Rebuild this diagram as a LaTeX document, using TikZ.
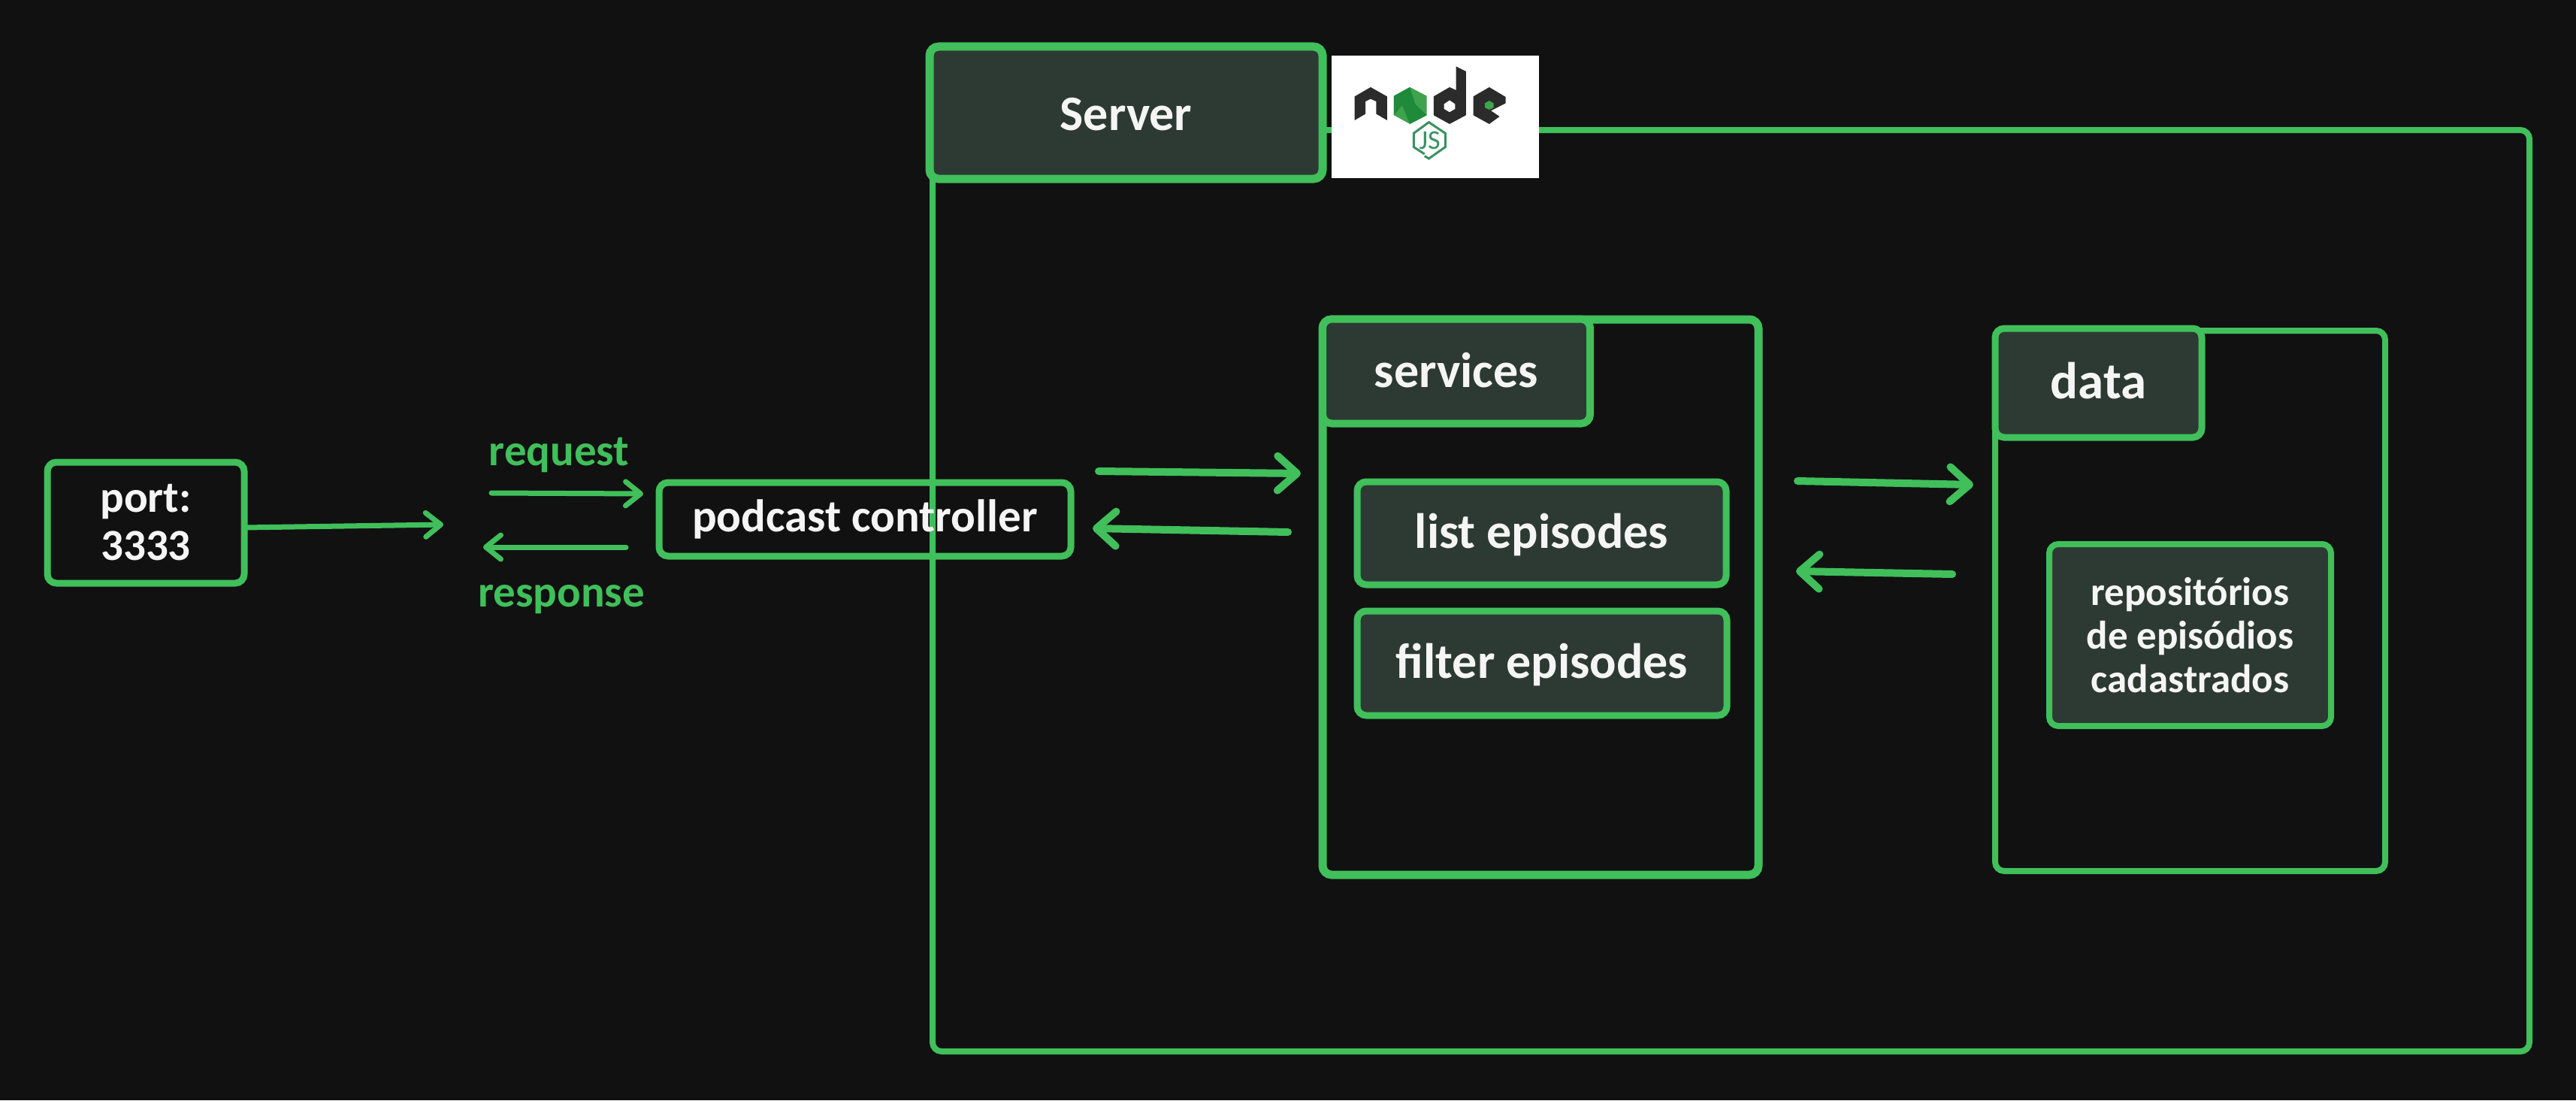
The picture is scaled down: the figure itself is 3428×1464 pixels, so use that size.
\documentclass[tikz,border=0pt]{standalone}
\usepackage{fontspec}
\setmainfont{Carlito}
\usetikzlibrary{arrows.meta}
\definecolor{bg}{HTML}{111112}
\definecolor{grn}{HTML}{40BF5A}
\definecolor{tabfill}{HTML}{2D3A33}
\definecolor{txt}{HTML}{F5F5F5}
\definecolor{logodark}{HTML}{2B2B2B}
\definecolor{logogreen}{HTML}{3FA34D}
\definecolor{logodeep}{HTML}{1E8A3A}
\definecolor{logojs}{HTML}{3A9160}
\newcommand{\lowertext}[2]{\raisebox{-#1}[20pt][20pt]{#2}}
\tikzset{
  x=1pt,y=-1pt,
  frame/.style={draw=grn,rounded corners=12pt,inner sep=0pt,outer sep=0pt},
  thick7/.style={line width=8pt},
  thick9/.style={line width=11pt},
  tabtext/.style={font=\fontsize{66}{60}\selectfont\bfseries},
  tab/.style={frame,fill=tabfill,text=txt,tabtext,align=center},
  plainbox/.style={frame,line width=9pt,text=txt,font=\fontsize{60}{60}\selectfont\bfseries,align=center},
  conbig/.style={draw=grn,line cap=round,line join=round,line width=10pt,-{Straight Barb[length=26pt,width=46pt,line width=10pt,round]}},
  connthin/.style={draw=grn,line cap=round,line join=round,line width=7pt,-{Straight Barb[length=20pt,width=32pt,line width=7pt,round]}},
  lbl/.style={text=grn,font=\fontsize{59}{60}\selectfont\bfseries,inner sep=0pt},
  logoshape/.style={fill=logodark,draw=none},
}
\begin{document}
\begin{tikzpicture}
\useasboundingbox (0,0) rectangle (3428,1464);
\fill[bg] (0,0) rectangle (3428,1464);
% large containers
\node[frame,thick7,minimum width=2125pt,minimum height=1226pt] (serverframe) at (2303.5,786) {};
\node[frame,thick9,minimum width=580pt,minimum height=739pt] (servicesframe) at (2050,794.5) {};
\node[frame,thick7,minimum width=519pt,minimum height=719pt] (dataframe) at (2914.5,799.5) {};
% tabs
\node[tab,line width=11pt,minimum width=523pt,minimum height=176pt] (server) at (1498.5,150) {\lowertext{23pt}{Server}};
\node[tab,line width=10pt,minimum width=356pt,minimum height=139pt] (services) at (1938,494) {\lowertext{21pt}{services}};
\node[tab,line width=9pt,minimum width=275pt,minimum height=145pt,font=\fontsize{69}{60}\selectfont\bfseries] (data) at (2792.5,509.5) {\lowertext{21pt}{data}};
\node[tab,line width=9pt,minimum width=491pt,minimum height=137pt] (list) at (2051.5,709.5) {\lowertext{20pt}{list episodes}};
\node[tab,line width=9pt,minimum width=492pt,minimum height=139pt] (filter) at (2052,882.5) {\lowertext{20pt}{filter episodes}};
\node[tab,line width=8pt,minimum width=375pt,minimum height=242pt,font=\fontsize{53}{58}\selectfont\bfseries] (repo) at (2914.5,845) {repositórios\\de episódios\\cadastrados};
% left boxes
\node[plainbox,minimum width=262pt,minimum height=161pt,font=\fontsize{59}{64}\selectfont\bfseries] (port) at (194,695.5) {port:\\3333};
\node[plainbox,minimum width=548pt,minimum height=98pt,font=\fontsize{61}{60}\selectfont\bfseries] (controller) at (1151,691) {\lowertext{16pt}{podcast controller}};
% logo (coordinates follow a 1.742 x 3 crop)
\node[draw=none,fill=white,inner sep=0pt,minimum width=276pt,minimum height=163pt] (logo) at (1910,155.5) {};
\begin{scope}[shift={(1200,30)},x=0.574pt,y=-0.3333pt]
  \fill[logoshape] (1050,295)--(1087,258)--(1125,295)--(1125,390)--(1100,365)--(1100,315)--(1087,305)--(1075,315)--(1075,365)--(1050,390)--cycle;
  \fill[logogreen] (1178,258)--(1217,293)--(1217,370)--(1178,405)--(1141,370)--(1141,293)--cycle;
  \fill[logodeep] (1178,258)--(1141,293)--(1141,370)--(1160,330)--(1178,405)--(1217,370)--(1190,325)--cycle;
  \fill[logoshape,even odd rule] (1285,175)--(1308,195)--(1308,370)--(1270,405)--(1233,370)--(1233,295)--(1270,258)--(1285,270)--cycle
     (1270,310)--(1283,325)--(1283,345)--(1270,358)--(1257,345)--(1257,325)--cycle;
  \fill[logoshape] (1362,258)--(1400,297)--(1400,322)--(1366,352)--(1386,375)--(1362,405)--(1325,370)--(1325,295)--cycle;
  \fill[logogreen] (1362,312)--(1372,322)--(1372,340)--(1362,348)--(1352,340)--(1352,322)--cycle;
  \draw[logojs,line width=3pt] (1212,525)--(1187,497)--(1187,442)--(1222,398)--(1260,442)--(1260,497)--(1222,543)--(1212,533);
  \node[text=logojs,inner sep=0pt,font=\fontsize{36}{36}\selectfont] (js) at (1224,470) {JS};
\end{scope}
% free ends
\coordinate (portgo) at (590,698);
\coordinate (reqa) at (654,656);
\coordinate (reqb) at (856,657);
\coordinate (resa) at (833,728);
\coordinate (resb) at (643,728);
\coordinate (sa) at (1462,627);
\coordinate (sb) at (1731,630);
\coordinate (ba) at (1714,708);
\coordinate (bb) at (1454,703);
\coordinate (da) at (2392,640);
\coordinate (db) at (2626,645);
\coordinate (ea) at (2598,764);
\coordinate (eb) at (2390,760);
\coordinate (portout) at (port.east |- 0,702);
% connectors
\draw[connthin] (portout) -- (portgo);
\draw[connthin] (reqa) -- (reqb);
\draw[connthin] (resa) -- (resb);
\draw[conbig] (sa) -- (sb);
\draw[conbig] (ba) -- (bb);
\draw[conbig] (da) -- (db);
\draw[conbig] (ea) -- (eb);
% labels
\node[lbl] (request) at (744,606) {request};
\node[lbl] (response) at (747,798) {response};
\end{tikzpicture}
\end{document}
